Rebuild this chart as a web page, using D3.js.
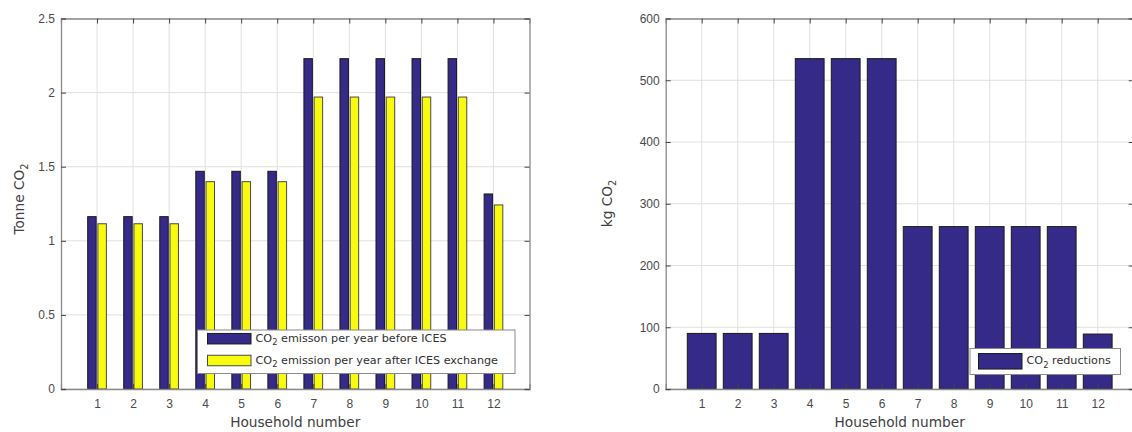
<!DOCTYPE html>
<html><head><meta charset="utf-8">
<script src="https://cdn.jsdelivr.net/npm/d3@7"></script>
<style>
body{margin:0;background:#fff;}
svg{display:block;font-family:"DejaVu Sans",Arial,Helvetica,sans-serif;}
</style></head>
<body>
<svg id="c" width="1132" height="432"></svg>
<script>
const households = ["1","2","3","4","5","6","7","8","9","10","11","12"];
const beforeICES = [1.163,1.163,1.163,1.469,1.469,1.469,2.229,2.229,2.229,2.229,2.229,1.316];
const afterICES  = [1.115,1.115,1.115,1.399,1.399,1.399,1.970,1.970,1.970,1.970,1.970,1.242];
const reductions = [90,90,90,535,535,535,263,263,263,263,263,89];
const leftTicks = [0,0.5,1,1.5,2,2.5];
const rightTicks = [0,100,200,300,400,500,600];
const legendLeft = ["emisson per year before ICES","emission per year after ICES exchange"];
const legendRight = ["reductions"];

const BLUE="#352a87", YELLOW="#f9fb0e";
const svg=d3.select("#c");
const yTop=18.5, yBot=389;
const TICKFS=12, LABFS=13.7, LEGFS=11.2;

function panel(x0,x1,ymax,ticks){
  const x=d3.scaleLinear().domain([0,13]).range([x0,x1]);
  const y=d3.scaleLinear().domain([0,ymax]).range([yBot,yTop]);
  const g=svg.append("g");
  g.append("g").selectAll("line").data(households).join("line")
    .attr("x1",(d,i)=>x(i+1)).attr("x2",(d,i)=>x(i+1)).attr("y1",yTop).attr("y2",yBot)
    .attr("stroke","#e0e0e0").attr("stroke-width",1);
  g.append("g").selectAll("line").data(ticks).join("line")
    .attr("x1",x0).attr("x2",x1).attr("y1",d=>y(d)).attr("y2",d=>y(d))
    .attr("stroke","#e0e0e0").attr("stroke-width",1);
  return {x,y,g};
}
function frame(p,x0,x1,ticks,fmt){
  const {x,y,g}=p;
  const xa=d3.axisBottom(x).tickValues(d3.range(1,13)).tickFormat((d,i)=>households[i]).tickSize(-5).tickPadding(10);
  const xt=d3.axisTop(x).tickValues(d3.range(1,13)).tickFormat("").tickSize(-5);
  const ya=d3.axisLeft(y).tickValues(ticks).tickFormat(fmt).tickSize(-5).tickPadding(6);
  const yr=d3.axisRight(y).tickValues(ticks).tickFormat("").tickSize(-5);
  const ax=[
    g.append("g").attr("transform",`translate(0,${yBot})`).call(xa),
    g.append("g").attr("transform",`translate(0,${yTop})`).call(xt),
    g.append("g").attr("transform",`translate(${x0},0)`).call(ya),
    g.append("g").attr("transform",`translate(${x1},0)`).call(yr)
  ];
  ax.forEach(a=>{
    a.select(".domain").attr("stroke","#8a8a8a").attr("stroke-width",1.3);
    a.selectAll(".tick line").attr("stroke","#444");
    a.selectAll(".tick text").attr("fill","#4a4a4a").attr("font-size",TICKFS).attr("font-family","inherit");
  });
}

// Left panel
const xL0=61,xL1=529.5;
const pL=panel(xL0,xL1,2.5,leftTicks);
const bw=(pL.x(1)-pL.x(0))*0.235, off=(pL.x(1)-pL.x(0))*0.142;
pL.g.append("g").selectAll("rect").data(beforeICES).join("rect")
  .attr("x",(d,i)=>pL.x(i+1)-off-bw/2).attr("width",bw)
  .attr("y",d=>pL.y(d)).attr("height",d=>yBot-pL.y(d))
  .attr("fill",BLUE).attr("stroke","#1a1a1a").attr("stroke-width",1);
pL.g.append("g").selectAll("rect").data(afterICES).join("rect")
  .attr("x",(d,i)=>pL.x(i+1)+off-bw/2).attr("width",bw)
  .attr("y",d=>pL.y(d)).attr("height",d=>yBot-pL.y(d))
  .attr("fill",YELLOW).attr("stroke","#4a4a4a").attr("stroke-width",1);
frame(pL,xL0,xL1,leftTicks,d=>String(d));

// Right panel
const xR0=665.7,xR1=1133.7;
const pR=panel(xR0,xR1,600,rightTicks);
const bwR=(pR.x(1)-pR.x(0))*0.8;
pR.g.append("g").selectAll("rect").data(reductions).join("rect")
  .attr("x",(d,i)=>pR.x(i+1)-bwR/2).attr("width",bwR)
  .attr("y",d=>pR.y(d)).attr("height",d=>yBot-pR.y(d))
  .attr("fill",BLUE).attr("stroke","#1a1a1a").attr("stroke-width",1);
frame(pR,xR0,xR1,rightTicks,d=>String(d));

// axis labels
[(xL0+xL1)/2,(xR0+xR1)/2].forEach(cx=>{
  svg.append("text").attr("x",cx).attr("y",427).attr("text-anchor","middle")
    .attr("font-size",LABFS).attr("fill","#404040").text("Household number");
});
function ylabel(tx,ty,pre){
  const t=svg.append("text").attr("transform",`translate(${tx},${ty}) rotate(-90)`).attr("text-anchor","middle")
    .attr("font-size",LABFS).attr("fill","#404040");
  t.append("tspan").text(pre+"CO");
  t.append("tspan").text("2").attr("font-size",LABFS*0.72).attr("dy",4);
}
ylabel(23.5,199,"Tonne ");
ylabel(612,203.5,"kg ");

// legends
function legend(bx,by,bwid,bht,entries,colors,strokes,patch,rowY,textX){
  const g=svg.append("g");
  g.append("rect").attr("x",bx).attr("y",by).attr("width",bwid).attr("height",bht)
    .attr("fill","#fff").attr("stroke","#8a8a8a").attr("stroke-width",1);
  entries.forEach((e,i)=>{
    g.append("rect").attr("x",patch[0]).attr("y",rowY[i]-patch[2]/2).attr("width",patch[1]).attr("height",patch[2])
      .attr("fill",colors[i]).attr("stroke",strokes[i]).attr("stroke-width",1);
    const t=g.append("text").attr("x",textX).attr("y",rowY[i]+3).attr("font-size",LEGFS).attr("fill","#303030");
    t.append("tspan").text("CO");
    t.append("tspan").text("2").attr("font-size",LEGFS*0.75).attr("dy",3.5);
    t.append("tspan").text(" "+e).attr("dy",-3.5);
  });
}
legend(197.5,330,317.5,43.5,legendLeft,[BLUE,YELLOW],["#1a1a1a","#4a4a4a"],[207.5,43.5,10.5],[338.7,360.5],255.5);
legend(970,348.5,150.5,26,legendRight,[BLUE],["#1a1a1a"],[978.5,43.5,15.5],[361.3],1026.5);
</script>
</body></html>
